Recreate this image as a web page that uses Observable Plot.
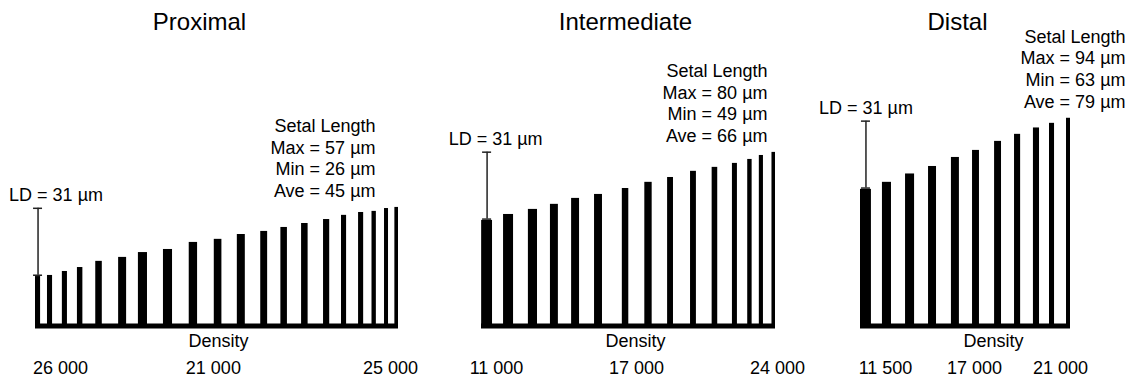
<!DOCTYPE html>
<html><head><meta charset="utf-8">
<script src="https://cdn.jsdelivr.net/npm/d3@7"></script>
<script src="https://cdn.jsdelivr.net/npm/@observablehq/plot@0.6"></script>
<style>
html,body{margin:0;padding:0;background:#fff;}
#chart{display:flex;width:1130px;height:377px;overflow:hidden;background:#fff;}
#chart svg{display:block;flex:none;}
</style></head><body><div id="chart"></div>
<script>
// ---- data ----
const regions = ["Proximal", "Intermediate", "Distal"];
const LD = 31; // µm
const setalMax = [57, 80, 94];
const setalMin = [26, 49, 63];
const setalAve = [45, 66, 79];

// positions along each leaf segment (0–100), setal thickness (same units), setal length (µm)
const proximalPos    = [0.7, 4.0, 8.1, 12.3, 17.5, 24.0, 29.6, 36.5, 43.5, 50.3, 56.7, 63.0, 68.5, 74.2, 80.2, 85.0, 89.7, 93.3, 96.7, 99.5];
const proximalWidth  = [1.4, 1.4, 1.4, 1.5, 1.8, 2.2, 2.5, 2.5, 2.3, 2.1, 2.2, 1.9, 1.8, 1.8, 1.7, 1.4, 1.4, 1.2, 1.1, 1.0];
const proximalLength = [23.6, 24.1, 25.9, 27.7, 30.5, 32.3, 34.5, 35.9, 39.1, 40.5, 42.7, 44.1, 45.9, 47.7, 49.5, 51.4, 52.7, 53.2, 54.5, 55.0];

const intermediatePos    = [1.9, 9.2, 17.5, 24.8, 32.0, 39.8, 49.0, 56.8, 64.3, 72.1, 79.4, 86.2, 91.3, 95.2, 99.4];
const intermediateWidth  = [3.7, 3.4, 3.1, 2.7, 2.7, 2.7, 2.2, 2.5, 2.0, 2.0, 1.9, 1.7, 1.5, 1.4, 1.2];
const intermediateLength = [49.1, 51.8, 54.1, 56.4, 59.1, 60.9, 63.6, 66.4, 68.6, 71.4, 73.2, 75.0, 76.8, 78.6, 80.0];

const distalPos    = [2.6, 12.6, 23.6, 34.3, 45.2, 55.0, 65.5, 74.8, 83.8, 91.2, 99.05];
const distalWidth  = [5.2, 4.3, 4.3, 3.8, 3.8, 3.3, 3.3, 2.9, 2.9, 2.4, 1.9];
const distalLength = [63.2, 66.4, 70.2, 73.6, 77.7, 80.9, 85.0, 88.2, 91.1, 93.2, 95.5];

// density tick labels
const proximalTicks = ["26 000", "21 000", "25 000"];
const proximalTickPos = [6.9, 49.0, 97.8];
const intermediateTicks = ["11 000", "17 000", "24 000"];
const intermediateTickPos = [5.1, 52.7, 100.7];
const distalTicks = ["11 500", "17 000", "21 000"];
const distalTickPos = [11.9, 54.3, 95.2];

// ---- layout ----
const FONT = "'Liberation Sans', Arial, Helvetica, sans-serif";
const panels = [
  {name: regions[0], pos: proximalPos, width: proximalWidth, length: proximalLength,
   ticks: proximalTicks, tickPos: proximalTickPos, k: 0,
   W: 430, ml: 35, mr: 32, titleDx: -17.5, densDx: 1.5, ldDx: 18, setalDx: -23},
  {name: regions[1], pos: intermediatePos, width: intermediateWidth, length: intermediateLength,
   ticks: intermediateTicks, tickPos: intermediateTickPos, k: 1,
   W: 380, ml: 51, mr: 35, titleDx: -3, densDx: 7, ldDx: 8.5, setalDx: -8},
  {name: regions[2], pos: distalPos, width: distalWidth, length: distalLength,
   ticks: distalTicks, tickPos: distalTickPos, k: 2,
   W: 320, ml: 50, mr: 60, titleDx: -8, densDx: 28, ldDx: 0, setalDx: 55}
];

function panel(cfg) {
  const bars = cfg.pos.map((p, i) => ({x1: p - cfg.width[i] / 2, x2: p + cfg.width[i] / 2, length: cfg.length[i]}));
  const p0 = cfg.pos[0], h0 = cfg.length[0];
  const pxPerUnit = (cfg.W - cfg.ml - cfg.mr) / 100;
  const cap = 4.5 / pxPerUnit;
  const bracket = [h0 + 0.6, h0 + LD];
  const tickMap = new Map(cfg.tickPos.map((p, i) => [p, cfg.ticks[i]]));
  const k = cfg.k;
  const setal = `Setal Length\nMax = ${setalMax[k]} µm\nMin = ${setalMin[k]} µm\nAve = ${setalAve[k]} µm`;
  const maxLen = d3.max(cfg.length);
  return Plot.plot({
    width: cfg.W, height: 377,
    marginLeft: cfg.ml, marginRight: cfg.mr, marginTop: 0, marginBottom: 49,
    x: {domain: [0, 100]},
    y: {domain: [0, 149], axis: null},
    style: {fontFamily: FONT, fontSize: "18px", color: "#000", background: "#fff", overflow: "visible"},
    marks: [
      Plot.rect(bars, {x1: "x1", x2: "x2", y1: 0, y2: "length", fill: "#000"}),
      Plot.ruleY([0], {x1: 0, x2: 100, stroke: "#000", strokeWidth: 5, dy: -2.5}),
      Plot.ruleX([p0], {y1: bracket[0], y2: bracket[1], stroke: "#222", strokeWidth: 1.5}),
      Plot.ruleY(bracket, {x1: p0 - cap, x2: p0 + cap, stroke: "#222", strokeWidth: 1.5}),
      Plot.text([`LD = ${LD} µm`], {text: d => d, x: p0, y: h0 + LD, dx: cfg.ldDx, dy: -13, textAnchor: "middle", lineAnchor: "middle"}),
      Plot.text([setal], {text: d => d, x: 100, y: maxLen, dx: cfg.setalDx, dy: -50, textAnchor: "end", lineAnchor: "middle", lineHeight: 1.2}),
      Plot.text([cfg.name], {text: d => d, frameAnchor: "top", dx: cfg.titleDx, dy: 22, lineAnchor: "middle", fontSize: 24}),
      Plot.text(["Density"], {text: d => d, frameAnchor: "bottom", dx: cfg.densDx, dy: 5.5, lineAnchor: "top"}),
      Plot.axisX({ticks: cfg.tickPos, tickFormat: d => tickMap.get(d), tickSize: 0, tickPadding: 32.5, label: null, fontSize: 18})
    ]
  });
}

const root = document.getElementById("chart");
for (const cfg of panels) root.appendChild(panel(cfg));
</script>
</body></html>
